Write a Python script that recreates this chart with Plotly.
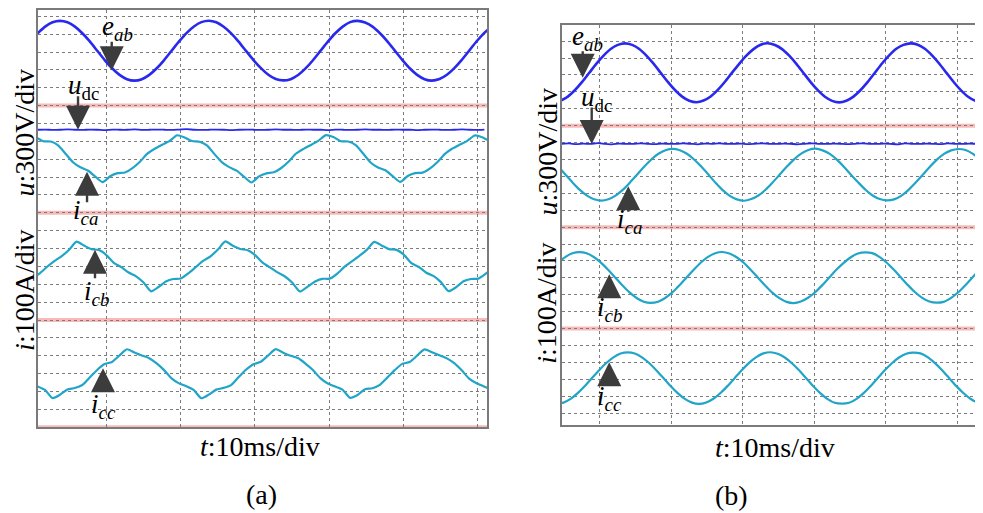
import numpy as np
import plotly.graph_objects as go

# ---------------- data (scope readings, in divisions; time in ms) ----------------
STEP_MS = 1.0

# panel (a)
E_AB_A_T0 = -0.04
E_AB_A = [22.05, 22.42, 22.66, 22.74, 22.66, 22.42, 22.05, 21.59, 21.07, 20.55,
          20.09, 19.72, 19.48, 19.40, 19.48, 19.72, 20.09, 20.55, 21.07, 21.59,
          22.06, 22.43, 22.67, 22.75, 22.66, 22.41, 22.04, 21.58, 21.06, 20.55,
          20.10, 19.73, 19.49, 19.41, 19.48, 19.71, 20.08, 20.54, 21.06, 21.58,
          22.05, 22.42, 22.67, 22.74, 22.65, 22.42, 22.05, 21.60, 21.08, 20.56,
          20.09, 19.72, 19.48, 19.40, 19.49, 19.73, 20.10, 20.56, 21.08, 21.60,
          22.06, 22.43]

UDC_A_T0 = 0.0
UDC_A = [16.65, 16.66, 16.64, 16.65, 16.67, 16.65, 16.64, 16.66, 16.65, 16.63,
         16.66, 16.65, 16.65, 16.67, 16.64, 16.65, 16.66, 16.65, 16.64, 16.66,
         16.68, 16.65, 16.64, 16.65, 16.66, 16.65, 16.63, 16.65, 16.66, 16.65,
         16.64, 16.65, 16.67, 16.65, 16.65, 16.64, 16.66, 16.65, 16.65, 16.63,
         16.66, 16.65, 16.64, 16.65, 16.67, 16.65, 16.65, 16.64, 16.66, 16.65,
         16.65, 16.63, 16.65, 16.66, 16.65, 16.64, 16.65, 16.67, 16.65, 16.64,
         16.66]

I_CA_A_T0 = -0.30
I_CA_A = [16.23, 16.01, 15.99, 15.78, 15.31, 14.83, 14.55, 14.37, 14.03, 13.72,
          14.05, 14.22, 14.26, 14.50, 14.86, 15.31, 15.59, 15.81, 16.03, 16.34,
          16.22, 16.02, 15.98, 15.77, 15.30, 14.84, 14.56, 14.36, 14.02, 13.70,
          14.04, 14.21, 14.27, 14.51, 14.87, 15.32, 15.58, 15.80, 16.04, 16.35,
          16.24, 16.01, 15.99, 15.79, 15.32, 14.82, 14.54, 14.38, 14.04, 13.73,
          14.06, 14.22, 14.25, 14.49, 14.85, 15.30, 15.60, 15.82, 16.03, 16.33,
          16.23, 16.01]

I_CB_A_T0 = -0.81
I_CB_A = [8.32, 8.60, 8.97, 9.30, 9.58, 9.94, 10.39, 10.17, 9.97, 9.92,
          9.64, 9.20, 8.96, 8.66, 8.45, 8.10, 7.61, 7.85, 8.16, 8.30,
          8.33, 8.61, 8.96, 9.31, 9.57, 9.95, 10.40, 10.16, 9.98, 9.91,
          9.63, 9.21, 8.95, 8.67, 8.44, 8.09, 7.60, 7.86, 8.15, 8.31,
          8.32, 8.59, 8.98, 9.29, 9.59, 9.93, 10.38, 10.18, 9.97, 9.93,
          9.65, 9.19, 8.97, 8.65, 8.46, 8.11, 7.62, 7.84, 8.17, 8.30,
          8.32, 8.60, 8.97]

I_CC_A_T0 = -0.05
I_CC_A = [2.29, 2.09, 1.64, 1.82, 2.12, 2.20, 2.37, 2.79, 3.21, 3.54,
          3.66, 4.02, 4.37, 4.19, 4.02, 3.87, 3.58, 3.20, 2.74, 2.46,
          2.30, 2.08, 1.63, 1.83, 2.11, 2.21, 2.36, 2.80, 3.22, 3.53,
          3.67, 4.03, 4.38, 4.18, 4.01, 3.88, 3.57, 3.21, 2.75, 2.45,
          2.28, 2.10, 1.65, 1.81, 2.13, 2.19, 2.38, 2.78, 3.20, 3.55,
          3.65, 4.01, 4.36, 4.20, 4.03, 3.86, 3.59, 3.19, 2.73, 2.47,
          2.29, 2.09]

# panel (b)
E_AB_B_T0 = -0.18
E_AB_B = [19.48, 19.72, 20.11, 20.59, 21.13, 21.67, 22.15, 22.54, 22.78, 22.87,
          22.78, 22.54, 22.15, 21.67, 21.13, 20.59, 20.11, 19.72, 19.48, 19.39,
          19.49, 19.73, 20.12, 20.60, 21.14, 21.66, 22.14, 22.53, 22.79, 22.88,
          22.77, 22.53, 22.14, 21.66, 21.12, 20.58, 20.10, 19.71, 19.47, 19.38,
          19.48, 19.72, 20.11, 20.59, 21.13, 21.68, 22.16, 22.55, 22.78, 22.87,
          22.79, 22.55, 22.16, 21.68, 21.14, 20.60, 20.12, 19.73, 19.49, 19.39,
          19.48]

UDC_B_T0 = 0.0
UDC_B = [16.93, 16.95, 16.91, 16.94, 16.92, 16.97, 16.93, 16.90, 16.94, 16.93,
         16.92, 16.96, 16.93, 16.91, 16.94, 16.93, 16.92, 16.95, 16.93, 16.90,
         16.94, 16.93, 16.96, 16.92, 16.93, 16.94, 16.91, 16.93, 16.95, 16.93,
         16.92, 16.94, 16.93, 16.90, 16.93, 16.96, 16.93, 16.92, 16.94, 16.93,
         16.91, 16.93, 16.95, 16.93, 16.92, 16.94, 16.93, 16.90, 16.96, 16.93,
         16.92, 16.94, 16.93, 16.91, 16.95, 16.93, 16.92, 16.94, 16.93, 16.92,
         16.93]

I_CA_B_T0 = -0.50
I_CA_B = [15.57, 15.10, 14.63, 14.20, 13.86, 13.65, 13.57, 13.65, 13.86, 14.20,
          14.63, 15.10, 15.57, 16.00, 16.34, 16.55, 16.63, 16.55, 16.34, 16.00,
          15.58, 15.11, 14.62, 14.19, 13.85, 13.64, 13.56, 13.66, 13.87, 14.21,
          14.64, 15.11, 15.58, 16.01, 16.35, 16.56, 16.64, 16.54, 16.33, 15.99,
          15.56, 15.09, 14.64, 14.21, 13.87, 13.66, 13.58, 13.64, 13.85, 14.19,
          14.62, 15.09, 15.56, 15.99, 16.33, 16.54, 16.62, 16.56, 16.35, 16.01,
          15.57]

I_CB_B_T0 = -0.55
I_CB_B = [9.90, 10.23, 10.45, 10.52, 10.45, 10.23, 9.90, 9.48, 9.02, 8.56,
          8.14, 7.81, 7.59, 7.52, 7.59, 7.81, 8.14, 8.56, 9.02, 9.48,
          9.91, 10.24, 10.46, 10.53, 10.44, 10.22, 9.89, 9.47, 9.01, 8.55,
          8.13, 7.80, 7.58, 7.51, 7.60, 7.82, 8.15, 8.57, 9.03, 9.49,
          9.89, 10.22, 10.44, 10.51, 10.46, 10.24, 9.91, 9.49, 9.03, 8.57,
          8.15, 7.82, 7.60, 7.53, 7.58, 7.80, 8.13, 8.55, 9.01, 9.47,
          9.90]

I_CC_B_T0 = -0.80
I_CC_B = [1.55, 1.62, 1.84, 2.18, 2.60, 3.07, 3.54, 3.96, 4.30, 4.52,
          4.59, 4.52, 4.30, 3.96, 3.54, 3.07, 2.60, 2.18, 1.84, 1.62,
          1.54, 1.63, 1.85, 2.19, 2.61, 3.08, 3.55, 3.97, 4.31, 4.53,
          4.60, 4.51, 4.29, 3.95, 3.53, 3.06, 2.59, 2.17, 1.83, 1.61,
          1.56, 1.61, 1.83, 2.17, 2.59, 3.06, 3.53, 3.95, 4.29, 4.51,
          4.58, 4.53, 4.31, 3.97, 3.55, 3.08, 2.61, 2.19, 1.85, 1.63,
          1.55]

# reference (ground) marker levels, divisions
REF_LEVELS_A = [0, 6, 12, 18]
REF_LEVELS_B = [6, 12, 18]

# ---------------- styles ----------------
BLUE = "#2828ee"
TEAL = "#20a5c8"
GRID = "#7c7c7c"
FRAME = "#7a7a7a"
ARROW = "#3c3c3c"
FONT = "'Times New Roman', 'Liberation Serif', Tinos, serif"


def tax(t0, vals):
    return t0 + np.arange(len(vals)) * STEP_MS


fig = go.Figure()

series_a = [(E_AB_A_T0, E_AB_A, BLUE, 2.6), (UDC_A_T0, UDC_A, BLUE, 1.8),
            (I_CA_A_T0, I_CA_A, TEAL, 2.2), (I_CB_A_T0, I_CB_A, TEAL, 2.2),
            (I_CC_A_T0, I_CC_A, TEAL, 2.2)]
series_b = [(E_AB_B_T0, E_AB_B, BLUE, 2.6), (UDC_B_T0, UDC_B, BLUE, 1.8),
            (I_CA_B_T0, I_CA_B, TEAL, 2.2), (I_CB_B_T0, I_CB_B, TEAL, 2.2),
            (I_CC_B_T0, I_CC_B, TEAL, 2.2)]

for t0, v, c, w in series_a:
    fig.add_trace(go.Scatter(x=tax(t0, v), y=v, mode="lines", xaxis="x", yaxis="y",
                             line=dict(color=c, width=w, shape="spline", smoothing=0.6),
                             hoverinfo="skip", showlegend=False))
for t0, v, c, w in series_b:
    fig.add_trace(go.Scatter(x=tax(t0, v), y=v, mode="lines", xaxis="x2", yaxis="y2",
                             line=dict(color=c, width=w, shape="spline", smoothing=0.6),
                             hoverinfo="skip", showlegend=False))

ax_common = dict(showgrid=True, gridcolor=GRID, gridwidth=1.2, griddash="dot",
                 zeroline=False, showticklabels=False, ticks="",
                 showline=True, linecolor=FRAME, linewidth=1.5, fixedrange=True)

shapes = []
for lv in REF_LEVELS_A:
    shapes.append(dict(type="line", xref="x domain", yref="y", x0=0, x1=1, y0=lv, y1=lv,
                       layer="below", line=dict(color="rgba(240,130,125,0.55)", width=4)))
for lv in REF_LEVELS_B:
    shapes.append(dict(type="line", xref="x2 domain", yref="y2", x0=0, x1=1, y0=lv, y1=lv,
                       layer="below", line=dict(color="rgba(240,130,125,0.55)", width=4)))

annotations = []
# arrows: (xref, yref, x_tip, y_tip, tail offset in px)
arrows = [("x", "y", 9.91, 19.98, -30), ("x", "y", 5.38, 16.65, -35),
          ("x", "y", 6.59, 14.30, 32), ("x", "y", 7.66, 9.93, 30),
          ("x", "y", 8.74, 3.31, 25),
          ("x2", "y2", 2.90, 20.84, -28), ("x2", "y2", 4.16, 16.91, -38),
          ("x2", "y2", 9.29, 14.42, 27), ("x2", "y2", 6.62, 9.21, 25),
          ("x2", "y2", 6.62, 4.01, 25)]
for xr, yr, x, y, ay in arrows:
    annotations.append(dict(xref=xr, yref=yr, x=x, y=y, text="", showarrow=True,
                            ax=0, ay=ay, arrowhead=2, arrowsize=2.0, arrowwidth=2.4,
                            arrowcolor=ARROW, standoff=0))

labels = [("x", "y", 10.62, 22.32, "<i>e</i><sub><i>ab</i></sub>"),
          ("x", "y", 6.18, 19.05, "<i>u</i><sub>dc</sub>"),
          ("x", "y", 6.45, 12.07, "<i>i</i><sub><i>ca</i></sub>"),
          ("x", "y", 7.80, 7.54, "<i>i</i><sub><i>cb</i></sub>"),
          ("x", "y", 8.74, 1.17, "<i>i</i><sub><i>cc</i></sub>"),
          ("x2", "y2", 3.64, 23.18, "<i>e</i><sub><i>ab</i></sub>"),
          ("x2", "y2", 4.90, 19.60, "<i>u</i><sub>dc</sub>"),
          ("x2", "y2", 9.52, 12.36, "<i>i</i><sub><i>ca</i></sub>"),
          ("x2", "y2", 6.72, 7.17, "<i>i</i><sub><i>cb</i></sub>"),
          ("x2", "y2", 6.72, 1.87, "<i>i</i><sub><i>cc</i></sub>")]
for xr, yr, x, y, txt in labels:
    annotations.append(dict(xref=xr, yref=yr, x=x, y=y, text=txt, showarrow=False,
                            xanchor="center", yanchor="middle",
                            font=dict(family=FONT, size=27, color="black")))

page_text = [(0.01744, 0.75644, "<i>u</i>:300V/div", -90),
             (0.01744, 0.44158, "<i>i</i>:100A/div", -90),
             (0.55282, 0.71881, "<i>u</i>:300V/div", -90),
             (0.55282, 0.41782, "<i>i</i>:100A/div", -90),
             (0.25846, 0.13267, "<i>t</i>:10ms/div", 0),
             (0.78667, 0.13069, "<i>t</i>:10ms/div", 0),
             (0.25949, 0.03762, "(a)", 0),
             (0.74256, 0.03564, "(b)", 0)]
for x, y, txt, ang in page_text:
    annotations.append(dict(xref="paper", yref="paper", x=x, y=y, text=txt, showarrow=False,
                            textangle=ang, xanchor="center", yanchor="middle",
                            font=dict(family=FONT, size=28, color="black")))

fig.update_layout(
    width=975, height=505, margin=dict(l=0, r=0, t=0, b=0),
    paper_bgcolor="white", plot_bgcolor="white", showlegend=False,
    xaxis=dict(domain=[0.03077, 0.49128], range=[0, 60.35], tick0=9.14, dtick=10,
               mirror=True, anchor="y", **ax_common),
    yaxis=dict(domain=[0.17030, 1.0], range=[0, 23.35], tick0=0, dtick=1,
               mirror=True, anchor="x", **ax_common),
    xaxis2=dict(domain=[0.56821, 1.0], range=[0, 58.96], tick0=5.32, dtick=10,
                mirror=True, anchor="y2", **ax_common),
    yaxis2=dict(domain=[0.17426, 0.97030], range=[0.275, 23.96], tick0=1, dtick=1,
                mirror=False, anchor="x2", **ax_common),
    shapes=shapes, annotations=annotations,
)

fig.write_html("out.html")
